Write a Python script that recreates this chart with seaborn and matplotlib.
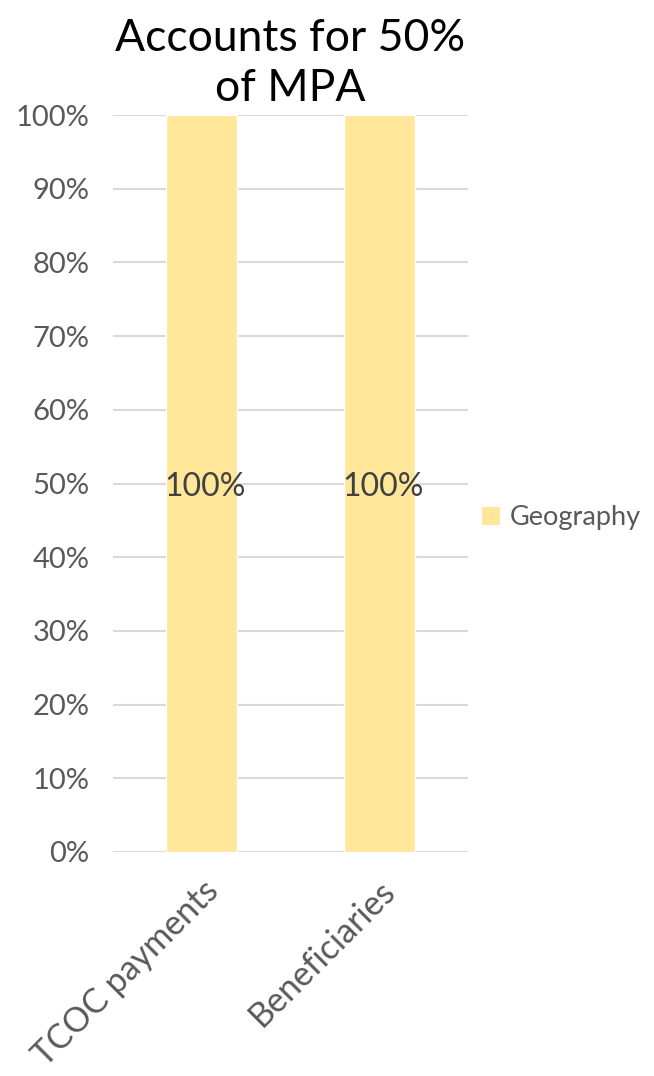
import pandas as pd
import matplotlib.pyplot as plt
import seaborn as sns
from matplotlib.patches import Patch
from matplotlib.ticker import PercentFormatter

sns.set_theme(style="white")
plt.rcParams['font.family'] = ['Lato', 'DejaVu Sans']

# chart data
categories = ["TCOC payments", "Beneficiaries"]
geography = [1.0, 1.0]
series_name = "Geography"
title = "Accounts for 50%\nof MPA"

bar_color = "#FFE699"
text_color = "#595959"
grid_color = "#D9D9D9"

df = pd.DataFrame({"Category": categories, "Share": geography})

fig = plt.figure(figsize=(6.54, 10.76), dpi=100)
ax = fig.add_axes([0.1728, 0.2082, 0.5428, 0.6849])

sns.barplot(data=df, x="Category", y="Share", color=bar_color,
            width=0.4, saturation=1, ax=ax)

ax.set_ylim(0, 1)
ax.set_xlim(-0.5, 1.5)
ax.set_yticks([i / 10 for i in range(11)])
ax.yaxis.set_major_formatter(PercentFormatter(1.0, decimals=0))
ax.grid(axis="y", color=grid_color, linewidth=1.5)
ax.set_axisbelow(True)
for s in ax.spines.values():
    s.set_visible(False)
ax.axhline(0, color=grid_color, linewidth=1.5, zorder=0.5)

ax.tick_params(axis="y", labelsize=21, colors=text_color, length=0, pad=17)
ax.tick_params(axis="x", labelsize=24.5, colors=text_color, length=0, pad=16)
plt.setp(ax.get_xticklabels(), rotation=45, ha="right", rotation_mode="anchor")
ax.set_xlabel("")
ax.set_ylabel("")

# data labels in the middle of the bars
for i, v in enumerate(geography):
    ax.text(i + 0.02, v / 2 - 0.005, f"{v:.0%}", ha="center", va="center",
            fontsize=23, color="#404040")

ax.set_title(title, fontsize=32, color="black", pad=10, linespacing=1.28)

handle = Patch(facecolor=bar_color, edgecolor="none")
fig.legend([handle], [series_name], loc="center left",
           bbox_to_anchor=(0.70, 0.519), frameon=False, fontsize=19.5,
           handlelength=0.65, handleheight=0.65, handletextpad=0.35,
           labelcolor=text_color)

fig.savefig("out.png", dpi=100)
